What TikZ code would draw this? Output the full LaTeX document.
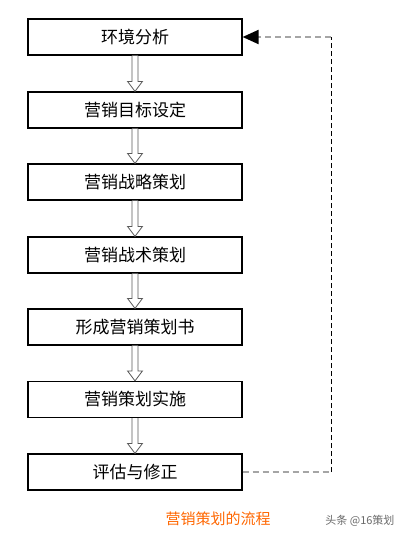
\documentclass[tikz,border=0pt]{standalone}
\usepackage{fontspec}
\setmainfont{Liberation Sans}
\newfontfamily\cjk{Noto Sans CJK SC}
\usetikzlibrary{calc,arrows.meta}
\definecolor{captionorange}{RGB}{255,102,0}
\definecolor{markgray}{RGB}{105,105,105}
\definecolor{dashgray}{RGB}{165,165,165}
\tikzset{
	stagebox/.style={draw, line width=1.2pt, fill=white, minimum width=214pt, minimum height=36pt, inner sep=0pt, font=\cjk\fontsize{17}{17}\selectfont},
	arrowline/.style={draw=black!65, line width=0.8pt, fill=white, line join=miter},
}
\def\hollowarrow(#1)(#2){\draw[arrowline] ($(#1.south)+(-3,0)$) -- ($(#2.north)+(-3,-10)$) -- ($(#2.north)+(-7.5,-10)$) -- (#2.north) -- ($(#2.north)+(7.5,-10)$) -- ($(#2.north)+(3,-10)$) -- ($(#1.south)+(3,0)$);}

\begin{document}
\begin{tikzpicture}[x=1pt, y=-1pt]
			%%%%% START %%%%%
			
			\useasboundingbox (0, 0) rectangle (406, 535);
			
			\node[stagebox] (env) at (135, 37) {环境分析};
			\node[stagebox] (goal) at (135, 110) {营销目标设定};
			\node[stagebox] (strategy) at (135, 182) {营销战略策划};
			\node[stagebox] (tactic) at (135, 255) {营销战术策划};
			\node[stagebox] (book) at (135, 327) {形成营销策划书};
			\node[stagebox] (carry) at (135, 399.5) {营销策划实施};
			\node[stagebox] (review) at (135, 472) {评估与修正};
			
			\hollowarrow(env)(goal)
			\hollowarrow(goal)(strategy)
			\hollowarrow(strategy)(tactic)
			\hollowarrow(tactic)(book)
			\hollowarrow(book)(carry)
			\hollowarrow(carry)(review)
			
			\coordinate (fbbottom) at (331, 472);
			\coordinate (fbtop) at (331, 37);
			\draw[dashgray, line width=2pt, dash pattern=on 6pt off 4pt] (review.east) -- (fbbottom);
			\draw[black, line width=0.9pt, dash pattern=on 5pt off 3pt] (fbbottom) -- (fbtop);
			\draw[dashgray, line width=2pt, dash pattern=on 6pt off 4pt, -{Triangle[color=black, length=16pt, width=14pt]}] (fbtop) -- (env.east);
			
			\node[text=captionorange, font=\cjk\fontsize{15}{15}\selectfont] (caption) at (218, 519) {营销策划的流程};
			\node[text=markgray, font=\cjk\fontsize{11}{11}\selectfont, anchor=east] (mark) at (398, 521) {头条 @16策划};
			
			%%%%% END %%%%%
\end{tikzpicture}
\end{document}
